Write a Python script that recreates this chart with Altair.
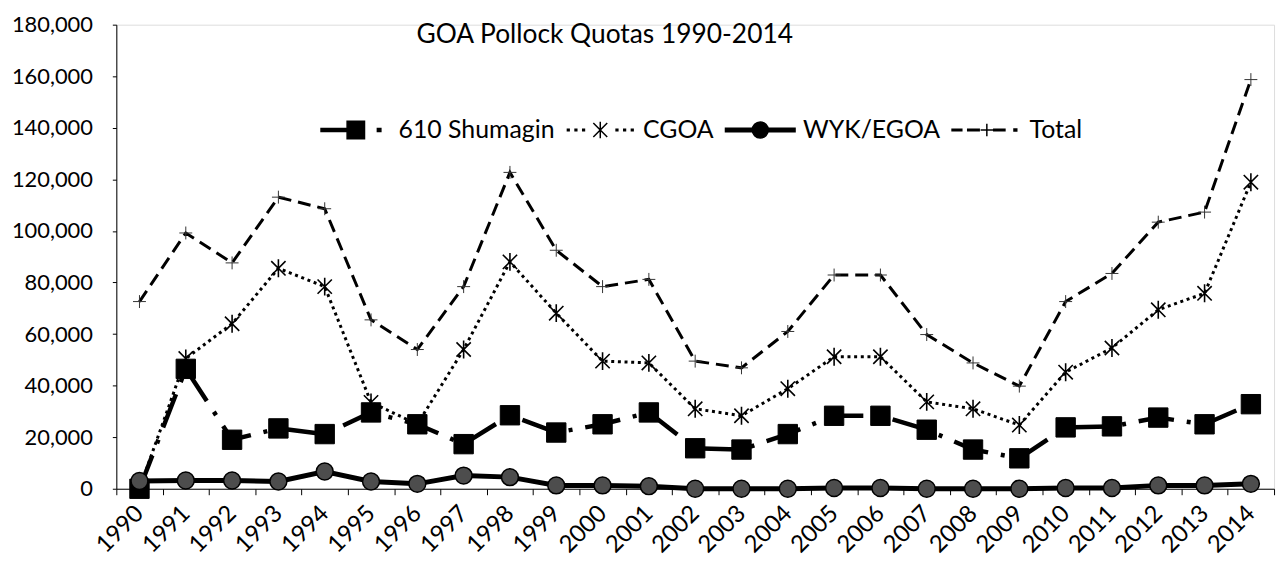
import altair as alt
import pandas as pd

years = [str(y) for y in range(1990, 2015)]
shumagin = [0, 46500, 19000, 23400, 21200, 29600, 25000, 17300, 28500, 21800, 25000, 29600,
            15700, 15200, 21200, 28300, 28300, 22900, 15200, 11800, 23800, 24200, 27600, 25000, 32800]
cgoa = [0, 50500, 64000, 85500, 78400, 33500, 25000, 54000, 88000, 68100, 49500, 48800,
        31000, 28300, 38800, 51200, 51200, 33700, 31000, 24700, 45200, 54600, 69400, 75800, 118900]
wyk = [3000, 3200, 3200, 2800, 6700, 2800, 1900, 5100, 4500, 1300, 1300, 1000,
       0, 0, 0, 300, 300, 0, 0, 0, 300, 300, 1300, 1300, 1900]
total = [72600, 99200, 87600, 113100, 108600, 65500, 54000, 78400, 122700, 92500, 78400, 81200,
         49500, 46900, 61000, 82900, 82900, 59800, 48800, 39800, 72600, 83500, 103400, 107300, 158700]
series_names = ["610 Shumagin", "CGOA", "WYK/EGOA", "Total"]
y_ticks = list(range(0, 180001, 20000))

df = pd.DataFrame({"year": years, "shumagin": shumagin, "cgoa": cgoa, "wyk": wyk, "total": total})
legend_df = pd.DataFrame({"series": series_names})

FONT = "Lato"

ASTERISK = "M0,-1V1M-0.8,-0.8L0.8,0.8M-0.8,0.8L0.8,-0.8"
PLUS = "M-1,0H1M0,-1V1"

# legend symbols: line + marker, drawn in a unit box (1 unit = 35px)
def rect(x0, x1, h):
    return f"M{x0},{-h}H{x1}V{h}H{x0}Z"

leg_shumagin = rect(-1, -0.1, 0.043) + "M-0.25,-0.25H0.25V0.25H-0.25Z" + rect(0.62, 0.72, 0.043)
leg_cgoa = "".join(rect(c - 0.025, c + 0.025, 0.025) for c in [-0.92, -0.7, -0.48, 0.48, 0.7, 0.92]) \
    + "M0,-0.24V0.24M-0.2,-0.2L0.2,0.2M-0.2,0.2L0.2,-0.2"
leg_wyk = rect(-1, 1, 0.05) + "M0.23,0A0.23,0.23 0 1,1 -0.23,0A0.23,0.23 0 1,1 0.23,0Z"
leg_total = rect(-1, -0.72, 0.02) + rect(-0.55, -0.22, 0.02) + "M0,-0.18V0.18M-0.18,0H0.18" \
    + rect(0.2, 0.52, 0.02) + rect(0.78, 0.86, 0.03)

x_axis = alt.Axis(title=None, tickBand="extent", tickSize=6, tickColor="black",
                  domainColor="black", labelAngle=-45, labelAlign="right",
                  labelBaseline="middle", labelPadding=15, labelFont=FONT,
                  labelFontSize=24, labelColor="black", grid=False)
x_enc = alt.X("year:N", sort=years,
              scale=alt.Scale(type="band", paddingInner=0, paddingOuter=0),
              axis=x_axis)
y_scale = alt.Scale(domain=[0, 180000], nice=False)
y_axis = alt.Axis(title=None, values=y_ticks, format=",d", tickSize=4, tickColor="black",
                  domainColor="black", labelPadding=20, labelFont=FONT, labelFontSize=22,
                  labelColor="black", grid=False)

base = alt.Chart(df)

def series(field, line_kw, point_kw):
    y = alt.Y(f"{field}:Q", scale=y_scale, axis=y_axis, title=None)
    line = base.mark_line(**line_kw).encode(x=x_enc, y=y)
    pts = base.mark_point(opacity=1, **point_kw).encode(x=x_enc, y=y)
    return line + pts

l1 = series("shumagin",
            dict(color="black", strokeWidth=4.5, strokeDash=[36, 13, 4, 13], strokeCap="butt"),
            dict(shape="square", size=380, filled=True, fill="black", stroke="black", strokeWidth=1))
l2 = series("cgoa",
            dict(color="black", strokeWidth=3, strokeDash=[3, 3.7], strokeCap="butt"),
            dict(shape=ASTERISK, size=324, filled=False, stroke="black", strokeWidth=1.6))
l3 = series("wyk",
            dict(color="black", strokeWidth=5),
            dict(shape="circle", size=290, filled=True, fill="#4d4d4d", stroke="black", strokeWidth=1.5))
l4 = series("total",
            dict(color="black", strokeWidth=3, strokeDash=[13, 7], strokeCap="butt"),
            dict(shape=PLUS, size=169, filled=False, stroke="#333333", strokeWidth=1))

legend_layer = alt.Chart(legend_df).transform_filter("false").mark_point(
    filled=True, fill="black", stroke="black", strokeWidth=1.5, opacity=1
).encode(
    shape=alt.Shape("series:N",
                    scale=alt.Scale(domain=series_names,
                                    range=[leg_shumagin, leg_cgoa, leg_wyk, leg_total]),
                    legend=alt.Legend(title=None, orient="none", legendX=205, legendY=70,
                                      direction="horizontal", symbolSize=4900,
                                      symbolOpacity=1, symbolStrokeWidth=1.5,
                                      labelFont=FONT, labelFontSize=25, labelColor="black",
                                      labelOffset=7, columnPadding=8, padding=0,
                                      labelLimit=400))
)

chart = alt.layer(l1, l2, l3, l4, legend_layer).properties(
    width=1165, height=467,
    title=alt.TitleParams("GOA Pollock Quotas 1990-2014", font=FONT, fontSize=26.5,
                          fontWeight="normal", color="black", anchor="middle", frame="group",
                          baseline="middle", offset=0, dx=-91, dy=48),
    autosize=alt.AutoSizeParams(type="none"),
    padding={"left": 109, "top": 15, "right": 6, "bottom": 80},
).configure_view(strokeWidth=0, stroke="transparent").configure(background="white")

chart.save("out.html", embed_options={"renderer": "svg", "actions": False})
